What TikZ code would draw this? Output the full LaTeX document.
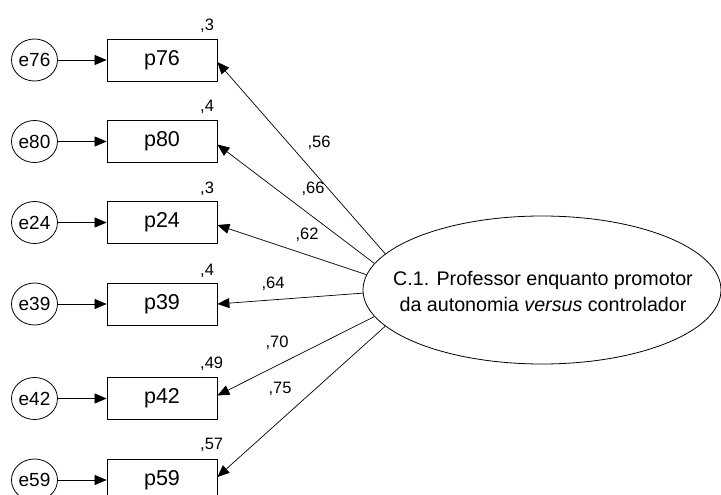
\documentclass[tikz,border=0pt]{standalone}
\usepackage{fontspec}
\setmainfont{Liberation Sans}
\usetikzlibrary{arrows.meta,shapes.geometric}
\begin{document}
\begin{tikzpicture}[x=1pt,y=-1pt,
  every node/.style={inner sep=0pt},
  obs/.style={draw,line width=0.8pt,minimum width=110pt,minimum height=42pt,font=\fontsize{21.5}{24}\selectfont},
  err/.style={draw,ellipse,line width=0.8pt,minimum width=46pt,minimum height=42pt,font=\fontsize{19}{22}\selectfont},
  latent/.style={draw,ellipse,line width=0.8pt,minimum width=358pt,minimum height=148pt},
  ltext/.style={align=center,font=\fontsize{19.7}{26}\selectfont},
  coef/.style={font=\fontsize{16.5}{19}\selectfont},
  rsq/.style={anchor=base west,font=\fontsize{16.5}{19}\selectfont},
  link/.style={line width=0.7pt,-{Triangle[length=12pt,width=10pt]}}
]
\useasboundingbox (0,0) rectangle (721,495);
\clip (0,0) rectangle (721,495);

% latent factor: outline and its caption
\node[latent] (lat) at (542,290) {};
\node[ltext] (latcap) at (543,291) {C.1. Professor enquanto promotor\\da autonomia \textit{versus} controlador};

% observed items
\node[obs] (p76) at (162,60)    {p76};
\node[obs] (p80) at (162,141.5) {p80};
\node[obs] (p24) at (162,222.5) {p24};
\node[obs] (p39) at (162,304)   {p39};
\node[obs] (p42) at (162,398.5) {p42};
\node[obs] (p59) at (162,480)   {p59};

% error terms
\node[err] (e76) at (34.5,60)    {e76};
\node[err] (e80) at (34.5,141.5) {e80};
\node[err] (e24) at (34.5,222.5) {e24};
\node[err] (e39) at (34.5,304)   {e39};
\node[err] (e42) at (34.5,398.5) {e42};
\node[err] (e59) at (34.5,480)   {e59};

\foreach \i in {76,80,24,39,42,59}
  \draw[link] (e\i) -- (p\i);

% squared multiple correlations
\node[rsq] (r76) at (200,31)  {,3};
\node[rsq] (r80) at (200,112) {,4};
\node[rsq] (r24) at (200,193) {,3};
\node[rsq] (r39) at (200,275) {,4};
\node[rsq] (r42) at (200,368) {,49};
\node[rsq] (r59) at (200,449) {,57};

% loadings
\draw[link] (lat.167.6) -- ([yshift=-2pt]p76.east);
\draw[link] (lat.171.6) -- ([yshift=-3pt]p80.east);
\draw[link] (lat.175.8) -- ([yshift=-2.5pt]p24.east);
\draw[link] (lat.181)   -- (p39.east);
\draw[link] (lat.189.6) -- ([yshift=3pt]p42.east);
\draw[link] (lat.193.8) -- ([yshift=3pt]p59.east);

\node[coef] (l76) at (319,143) {,56};
\node[coef] (l80) at (313,189) {,66};
\node[coef] (l24) at (307,235) {,62};
\node[coef] (l39) at (273,284) {,64};
\node[coef] (l42) at (277,343) {,70};
\node[coef] (l59) at (280,389) {,75};
\end{tikzpicture}
\end{document}
